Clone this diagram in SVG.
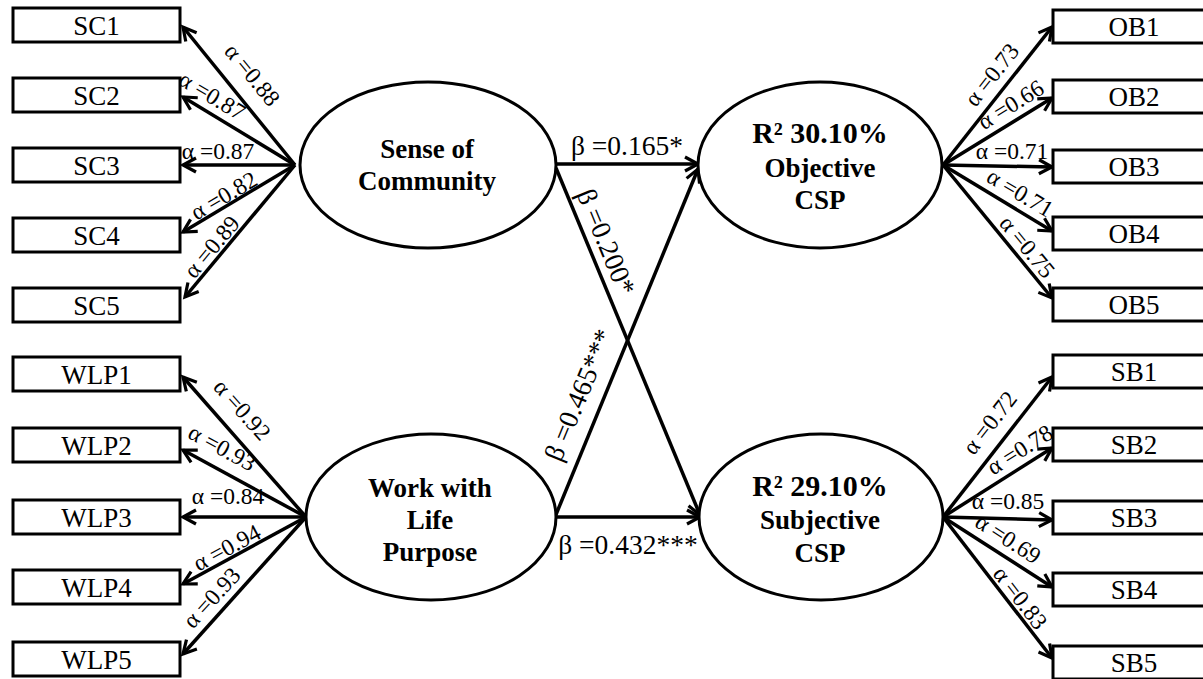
<svg xmlns="http://www.w3.org/2000/svg" width="1203" height="679" viewBox="0 0 1203 679" font-family="Liberation Serif, Times New Roman, DejaVu Serif, serif">
<defs>
<marker id="arr" markerUnits="userSpaceOnUse" markerWidth="20" markerHeight="20" viewBox="-16 -10 20 20" refX="0" refY="0" orient="auto">
<path d="M-13,-7 L0,0 L-13,7" fill="none" stroke="#000" stroke-width="3.2" stroke-linejoin="miter"/>
</marker>
<style>
.box{fill:#fff;stroke:#000;stroke-width:3}
.ell{fill:#fff;stroke:#000;stroke-width:3}
.bt{font-size:27px;text-anchor:middle;fill:#000}
.et{font-size:27px;font-weight:bold;text-anchor:middle;fill:#000}
.rt{font-size:30px;font-weight:bold;text-anchor:middle;fill:#000}
.al{font-size:23.5px;text-anchor:middle;fill:#000}
.bl{font-size:27.5px;text-anchor:middle;fill:#000}
.ln{stroke:#000;stroke-width:3.5;fill:none;marker-end:url(#arr)}
</style>
</defs>
<rect width="1203" height="679" fill="#fff"/>

<g id="connectors">
<line class="ln" x1="295" y1="165" x2="183" y2="27"/>
<line class="ln" x1="295" y1="165" x2="183" y2="97"/>
<line class="ln" x1="295" y1="165" x2="183" y2="165"/>
<line class="ln" x1="295" y1="165" x2="183" y2="232"/>
<line class="ln" x1="295" y1="165" x2="185" y2="297"/>
<line class="ln" x1="306" y1="517" x2="183" y2="377"/>
<line class="ln" x1="306" y1="517" x2="183" y2="450"/>
<line class="ln" x1="306" y1="517" x2="183" y2="517"/>
<line class="ln" x1="306" y1="517" x2="183" y2="584"/>
<line class="ln" x1="306" y1="517" x2="183" y2="654"/>
<line class="ln" x1="943" y1="165" x2="1052" y2="27"/>
<line class="ln" x1="943" y1="165" x2="1052" y2="98"/>
<line class="ln" x1="943" y1="165" x2="1052" y2="167"/>
<line class="ln" x1="943" y1="165" x2="1052" y2="231"/>
<line class="ln" x1="943" y1="165" x2="1052" y2="298"/>
<line class="ln" x1="943" y1="517" x2="1052" y2="377"/>
<line class="ln" x1="943" y1="517" x2="1052" y2="448"/>
<line class="ln" x1="943" y1="517" x2="1052" y2="520"/>
<line class="ln" x1="943" y1="517" x2="1052" y2="587"/>
<line class="ln" x1="943" y1="517" x2="1052" y2="658"/>
<line class="ln" x1="557" y1="164" x2="698" y2="164"/>
<line class="ln" x1="556" y1="168" x2="700" y2="515"/>
<line class="ln" x1="555" y1="517" x2="698" y2="169"/>
<line class="ln" x1="555" y1="517" x2="700" y2="517"/>

<text class="al" transform="translate(252,75) rotate(50.7)" y="7.5">α =0.88</text>
<text class="al" transform="translate(212,96) rotate(31)" y="7.5">α =0.87</text>
<text class="al" x="218" y="159">α =0.87</text>
<text class="al" transform="translate(224,196) rotate(-30.3)" y="7.5">α =0.82</text>
<text class="al" transform="translate(212,247) rotate(-50.2)" y="7.5">α =0.89</text>
<text class="al" transform="translate(242,410) rotate(48.5)" y="7.5">α =0.92</text>
<text class="al" transform="translate(222,448) rotate(28.4)" y="7.5">α =0.93</text>
<text class="al" x="228" y="504">α =0.84</text>
<text class="al" transform="translate(227,548) rotate(-28)" y="7.5">α =0.94</text>
<text class="al" transform="translate(212,598) rotate(-47.6)" y="7.5">α =0.93</text>
<text class="al" transform="translate(992,75) rotate(-51.7)" y="7.5">α =0.73</text>
<text class="al" transform="translate(1011,105) rotate(-31.6)" y="7.5">α =0.66</text>
<text class="al" x="1012" y="159">α =0.71</text>
<text class="al" transform="translate(1020,193) rotate(30.8)" y="7.5">α =0.71</text>
<text class="al" transform="translate(1027,247) rotate(50.7)" y="7.5">α =0.75</text>
<text class="al" transform="translate(990,423) rotate(-52.1)" y="7.5">α =0.72</text>
<text class="al" transform="translate(1020,450) rotate(-32.3)" y="7.5">α =0.78</text>
<text class="al" x="1008" y="509">α =0.85</text>
<text class="al" transform="translate(1008,539) rotate(32.7)" y="7.5">α =0.69</text>
<text class="al" transform="translate(1020,598) rotate(52.3)" y="7.5">α =0.83</text>
<text class="bl" x="627" y="155">β =0.165*</text>
<text class="bl" transform="translate(606,242) rotate(67.5)" y="9">β =0.200*</text>
<text class="bl" transform="translate(579,395) rotate(-67.6)" y="9">β =0.465***</text>
<text class="bl" x="628" y="554">β =0.432***</text>
</g>

<g id="n-sc1"><rect class="box" x="13" y="8" width="167" height="34"/><text class="bt" x="96.5" y="35">SC1</text></g>
<g id="n-sc2"><rect class="box" x="13" y="78" width="167" height="34"/><text class="bt" x="96.5" y="105">SC2</text></g>
<g id="n-sc3"><rect class="box" x="13" y="148" width="167" height="34"/><text class="bt" x="96.5" y="175">SC3</text></g>
<g id="n-sc4"><rect class="box" x="13" y="218" width="167" height="34"/><text class="bt" x="96.5" y="245">SC4</text></g>
<g id="n-sc5"><rect class="box" x="13" y="288" width="167" height="34"/><text class="bt" x="96.5" y="315">SC5</text></g>
<g id="n-wlp1"><rect class="box" x="13" y="357" width="167" height="34"/><text class="bt" x="96.5" y="384">WLP1</text></g>
<g id="n-wlp2"><rect class="box" x="13" y="428" width="167" height="34"/><text class="bt" x="96.5" y="455">WLP2</text></g>
<g id="n-wlp3"><rect class="box" x="13" y="500" width="167" height="34"/><text class="bt" x="96.5" y="527">WLP3</text></g>
<g id="n-wlp4"><rect class="box" x="13" y="570" width="167" height="34"/><text class="bt" x="96.5" y="597">WLP4</text></g>
<g id="n-wlp5"><rect class="box" x="13" y="642" width="167" height="34"/><text class="bt" x="96.5" y="669">WLP5</text></g>

<g id="n-ob1"><rect class="box" x="1053" y="10" width="165" height="33"/><text class="bt" x="1134" y="36">OB1</text></g>
<g id="n-ob2"><rect class="box" x="1053" y="80" width="165" height="33"/><text class="bt" x="1134" y="106">OB2</text></g>
<g id="n-ob3"><rect class="box" x="1053" y="150" width="165" height="33"/><text class="bt" x="1134" y="176">OB3</text></g>
<g id="n-ob4"><rect class="box" x="1053" y="217" width="165" height="33"/><text class="bt" x="1134" y="243">OB4</text></g>
<g id="n-ob5"><rect class="box" x="1053" y="288" width="165" height="33"/><text class="bt" x="1134" y="314">OB5</text></g>
<g id="n-sb1"><rect class="box" x="1053" y="355" width="165" height="33"/><text class="bt" x="1134" y="381">SB1</text></g>
<g id="n-sb2"><rect class="box" x="1053" y="428" width="165" height="33"/><text class="bt" x="1134" y="454">SB2</text></g>
<g id="n-sb3"><rect class="box" x="1053" y="501" width="165" height="33"/><text class="bt" x="1134" y="527">SB3</text></g>
<g id="n-sb4"><rect class="box" x="1053" y="573" width="165" height="33"/><text class="bt" x="1134" y="599">SB4</text></g>
<g id="n-sb5"><rect class="box" x="1053" y="646" width="165" height="33"/><text class="bt" x="1134" y="672">SB5</text></g>

<g id="n-sense"><ellipse class="ell" cx="428" cy="165" rx="128" ry="83"/><text class="et" x="427" y="158">Sense of</text><text class="et" x="427" y="190">Community</text></g>
<g id="n-wlp"><ellipse class="ell" cx="431" cy="517" rx="125" ry="83"/><text class="et" x="430" y="497">Work with</text><text class="et" x="430" y="529">Life</text><text class="et" x="430" y="561">Purpose</text></g>
<g id="n-obj"><ellipse class="ell" cx="820" cy="165" rx="122" ry="83"/><text class="rt" x="820" y="143">R² 30.10%</text><text class="et" x="820" y="177">Objective</text><text class="et" x="820" y="209">CSP</text></g>
<g id="n-subj"><ellipse class="ell" cx="821" cy="517" rx="122" ry="83"/><text class="rt" x="820" y="496">R² 29.10%</text><text class="et" x="820" y="529">Subjective</text><text class="et" x="820" y="562">CSP</text></g>
</svg>
